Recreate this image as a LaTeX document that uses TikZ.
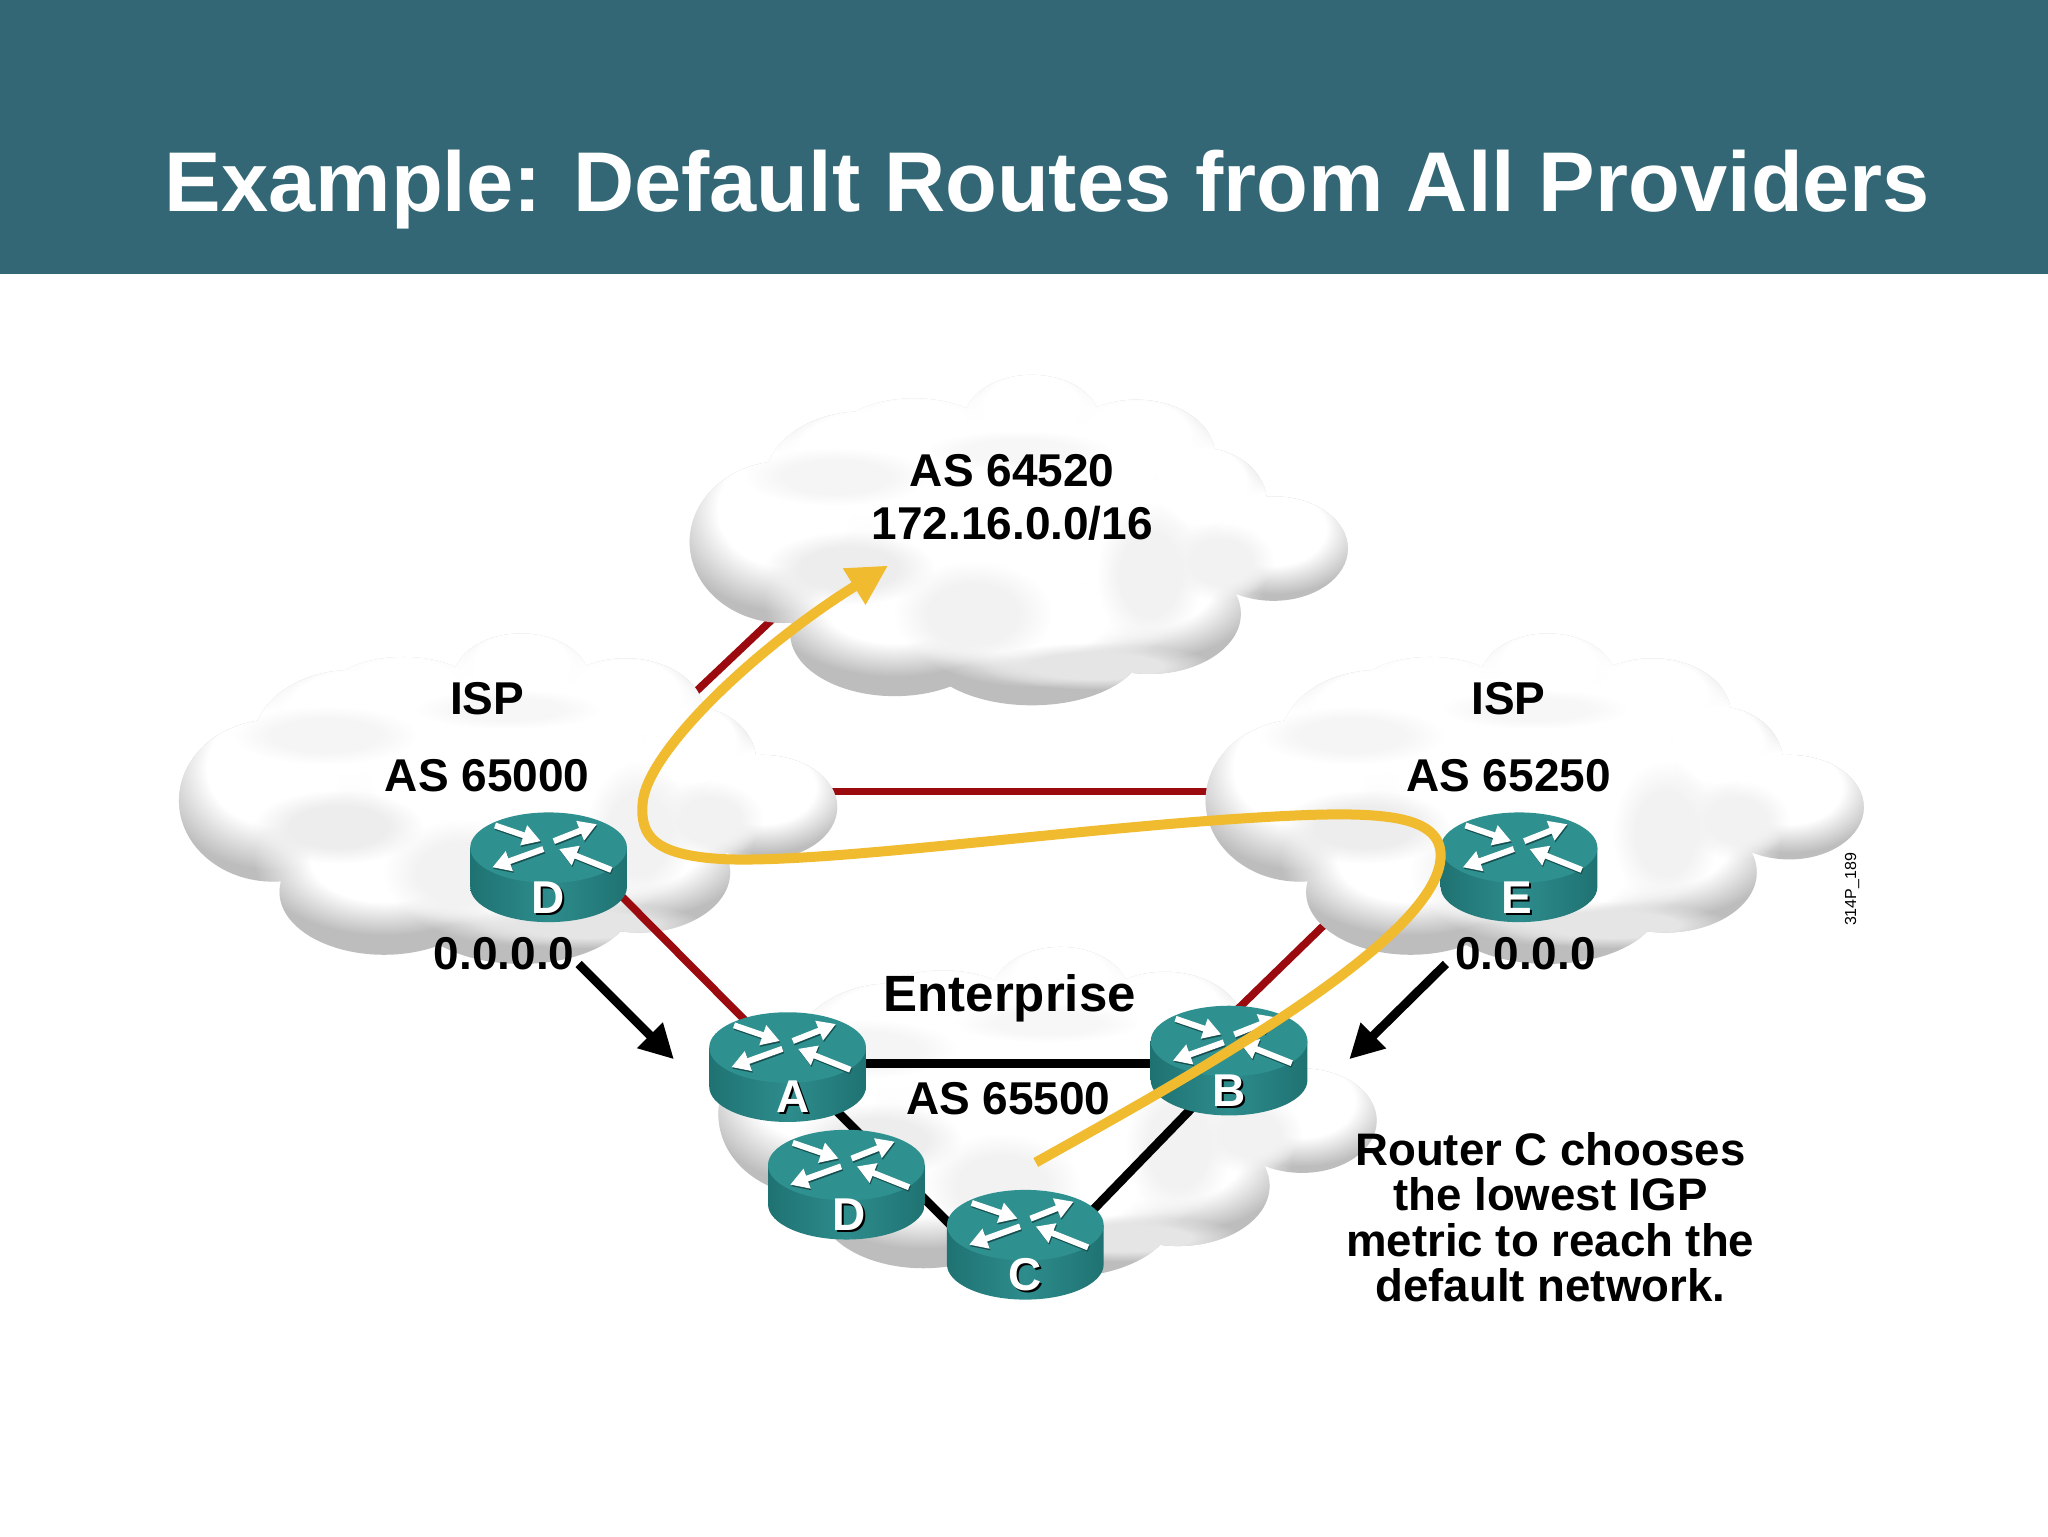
\documentclass[tikz,border=0pt]{standalone}
\usepackage{fontspec}
\setmainfont{Liberation Sans}
\usetikzlibrary{arrows.meta,fadings}
\definecolor{headerteal}{HTML}{336775}
\definecolor{linkred}{HTML}{9B0A0F}
\definecolor{routeyellow}{HTML}{F0BB2E}
\definecolor{rtop}{HTML}{2F9090}
\definecolor{rside}{HTML}{2E8C8C}
\definecolor{rdark}{HTML}{1F7272}
\definecolor{rshad}{HTML}{174F50}
\pgfdeclareradialshading{softshade}{\pgfpointorigin}{color(0bp)=(white); color(14bp)=(white); color(25bp)=(black); color(50bp)=(black)}
\pgfdeclarefading{softpuff}{\pgfuseshading{softshade}}
\tikzset{
  redlink/.style={draw=linkred,line width=3.8pt},
  blacklink/.style={draw=black,line width=4.4pt},
  bigarrow/.style={draw=black,line width=4.4pt,-{Triangle[width=17pt,length=17pt]}},
  yellowroute/.style={draw=routeyellow,line width=5pt,-{Triangle[width=20pt,length=20pt]}},
  lbl/.style={font=\fontsize{23}{26}\selectfont\bfseries,inner sep=0pt,align=center},
  rarrow/.style={draw=white,line width=3pt,-{Triangle[width=10pt,length=9pt]}},
  rshadow/.style={draw=rshad,line width=3pt,-{Triangle[width=10pt,length=9pt]}},
}
\newcommand{\cloudoutline}{%
  (600,415) ellipse [x radius=72,y radius=62]
  (660,370) ellipse [x radius=75,y radius=55]
  (700,335) ellipse [x radius=60,y radius=30]
  (790,322) ellipse [x radius=52,y radius=35]
  (870,348) ellipse [x radius=60,y radius=42]
  (920,385) ellipse [x radius=50,y radius=42]
  (975,420) ellipse [x radius=57,y radius=40]
  (780,420) ellipse [x radius=150,y radius=95]
  (685,485) ellipse [x radius=80,y radius=48]
  (790,495) ellipse [x radius=85,y radius=45]
  (880,470) ellipse [x radius=70,y radius=46]
}
\newcommand{\cloudat}[3]{%
  \begin{scope}[shift={(#2,#3)}]
    \coordinate (#1) at (780,420);
    \begin{scope}
      \clip \cloudoutline;
      \fill[black!26] (500,270) rectangle (1050,560);
      \foreach \cx/\cy/\rx/\ry in {600/390/90/78,660/355/94/70,700/328/75/40,790/312/66/46,870/336/76/52,920/372/62/52,975/405/72/50,780/385/190/120,685/460/100/58,790/470/106/56,880/447/88/58}{
        \fill[white,path fading=softpuff] (\cx,\cy) ellipse [x radius=\rx,y radius=\ry];
      }
      \foreach \cx/\cy/\rx/\ry/\g in {650/435/65/28/7,745/470/60/40/5,880/440/40/55/5,640/365/70/22/4,780/345/70/15/3,935/430/40/30/5,840/510/90/18/10}{
        \fill[black!\g,path fading=softpuff] (\cx,\cy) ellipse [x radius=\rx,y radius=\ry];
      }
    \end{scope}
  \end{scope}}
\newcommand{\routerat}[3]{%
  \begin{scope}[shift={(#1)}]
    \begin{scope}[shift={(0,-12)}]
      \shade[left color=rdark,right color=rdark,middle color=rside]
        (-60,0) -- (-60,30) arc [start angle=180,end angle=0,x radius=60,y radius=27] -- (60,0) -- cycle;
      \fill[rtop] (0,0) ellipse [x radius=60,y radius=27];
      \foreach \ax/\ay/\bx/\by in {-41/-17/-6/-5,4/-5/37/-18,-4/1/-43/15,48/17/8/1}{
        \draw[rshadow] (\ax+0.6,\ay+1.2) -- (\bx+0.6,\by+1.2);
        \draw[rarrow] (\ax,\ay) -- (\bx,\by);
      }
      \node[font=\fontsize{23}{23}\selectfont\bfseries,text=black,inner sep=0pt] at (#3+1.5,39.5) {#2};
      \node[font=\fontsize{23}{23}\selectfont\bfseries,text=white,inner sep=0pt] at (#3,38) {#2};
    \end{scope}
  \end{scope}}
\begin{document}
\begin{tikzpicture}[x=0.65306pt,y=-0.65306pt]
\useasboundingbox (0,0) rectangle (1568,1176);
\fill[white] (0,0) rectangle (1568,1176);
\fill[headerteal] (0,0) rectangle (1568,210);
\node[font=\fontsize{42.4}{46}\selectfont\bfseries,text=white,inner sep=0pt] (title) at (802,145) {Example: Default Routes from All Providers};
% router and link anchors
\coordinate (D1) at (420,661);
\coordinate (E) at (1163,661);
\coordinate (A) at (603,814);
\coordinate (B) at (941,809);
\coordinate (D2) at (648,904);
\coordinate (C) at (785,950);
\coordinate (Dport) at (450,660);
\coordinate (Bport) at (941,779);
\coordinate (Bport2) at (941,819);
\coordinate (Eport) at (1050,673);
\coordinate (Aport) at (620,830);
\coordinate (D2port) at (685,895);
\coordinate (Cport) at (745,955);
\coordinate (Cport2) at (810,954);
\coordinate (topport) at (640,428);
\coordinate (leftport) at (490,570);
\coordinate (leftmid) at (560,606);
\coordinate (rightmid) at (1000,606);
\cloudat{cloudEnt}{22}{438}
\draw[redlink] (topport) -- (leftport);
\draw[redlink] (leftmid) -- (rightmid);
\draw[redlink] (Eport) -- (Bport);
\cloudat{cloudTop}{0}{0}
\cloudat{cloudLeft}{-391}{198}
\cloudat{cloudRight}{395}{198}
\draw[redlink] (Dport) -- (A);
\draw[blacklink] (A) -- (A -| B);
\draw[blacklink] (Aport) -- (D2port);
\draw[blacklink] (D2port) -- (Cport);
\draw[blacklink] (Cport2) -- (Bport2);
\routerat{D1}{D}{0}
\routerat{E}{E}{-2}
\routerat{A}{A}{4}
\routerat{B}{B}{0}
\routerat{D2}{D}{2}
\routerat{C}{C}{0}
\node[lbl] (t1) at (775,360) {AS 64520};
\node[lbl] (t2) at (775,401) {172.16.0.0/16};
\node[lbl] (t3) at (373,535) {ISP};
\node[lbl] (t4) at (373,594) {AS 65000};
\node[lbl] (t5) at (1155,535) {ISP};
\node[lbl] (t6) at (1155,594) {AS 65250};
\node[lbl] (zeroL) at (386,730) {0.0.0.0};
\node[lbl] (zeroR) at (1168,730) {0.0.0.0};
\node[lbl,font=\fontsize{25.5}{28}\selectfont\bfseries] (t7) at (773,764) {Enterprise};
\node[lbl] (t8) at (772,841) {AS 65500};
\node[lbl,font=\fontsize{22.8}{22.7}\selectfont\bfseries] (note) at (1187,932) {Router C chooses\\the lowest IGP\\metric to reach the\\default network.};
\node[font=\fontsize{8}{8}\selectfont,rotate=90,inner sep=0pt] (code) at (1418,681) {314P\_189};
\coordinate (aLs) at (443,738);
\coordinate (aLe) at (516,811);
\coordinate (aRs) at (1107,738);
\coordinate (aRe) at (1033,811);
\draw[bigarrow] (aLs) -- (aLe);
\draw[bigarrow] (aRs) -- (aRe);
\coordinate (ys) at (793,890);
\coordinate (ye) at (680,433);
\draw[yellowroute] (ys) .. controls (900,830) and (1103,720) .. (1103,655)
  .. controls (1103,625) and (1060,622) .. (1000,624)
  .. controls (850,630) and (650,660) .. (560,658)
  .. controls (500,656) and (490,640) .. (492,615)
  .. controls (495,575) and (580,495) .. (ye);
\end{tikzpicture}
\end{document}
